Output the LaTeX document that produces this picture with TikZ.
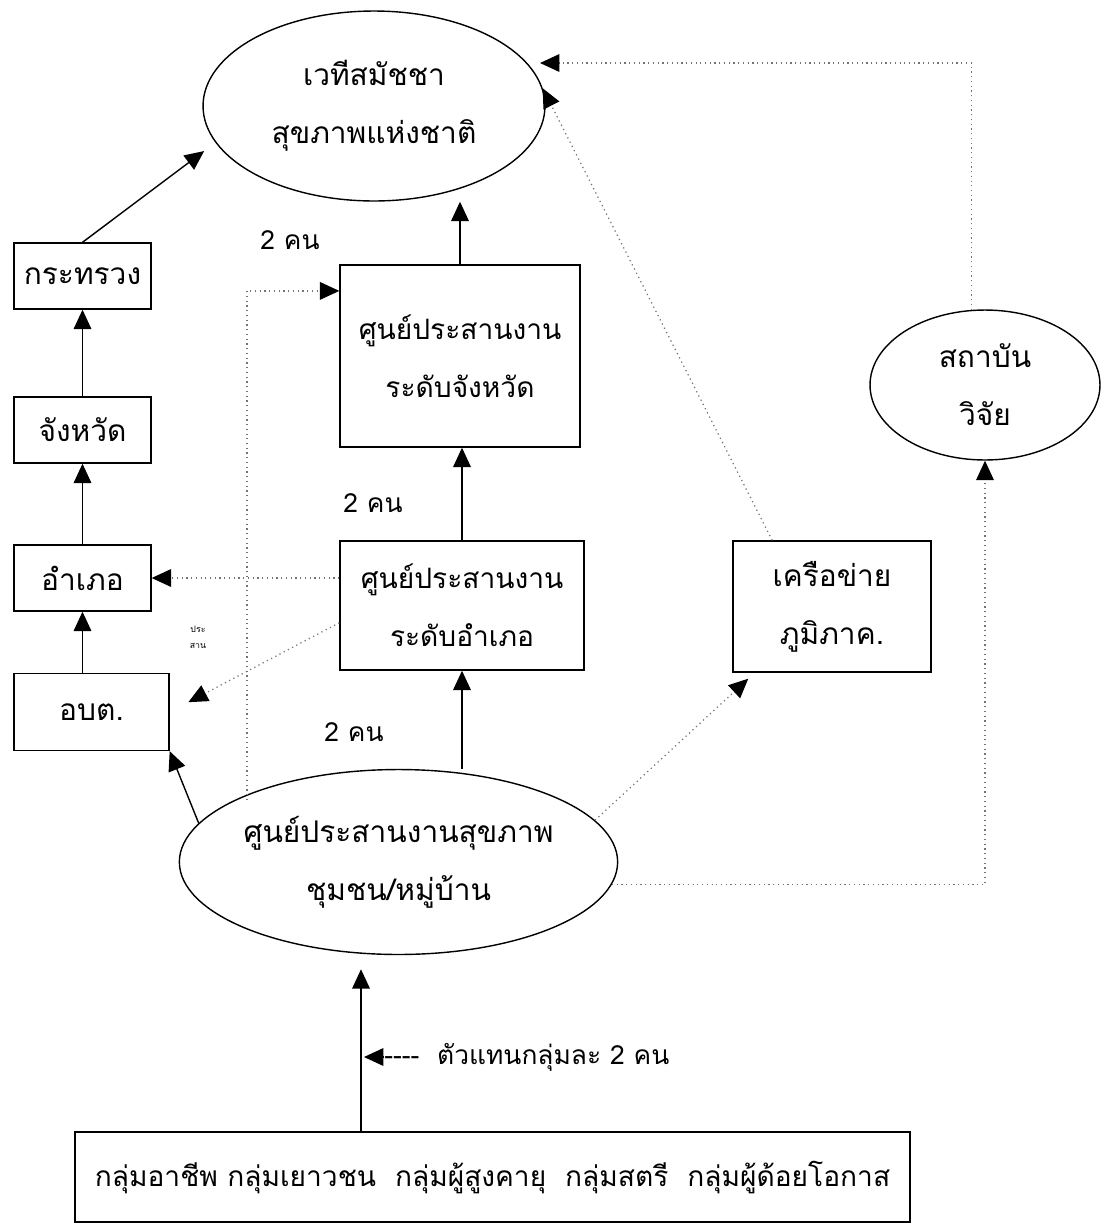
\documentclass[tikz,border=0pt]{standalone}
\usepackage{fontspec}
\newfontfamily\thaifont[Script=Thai]{Loma}
\usetikzlibrary{arrows.meta,shapes.geometric,calc}

\tikzset{
  every node/.style={font=\thaifont},
  lbl/.style={font=\thaifont\fontsize{17}{33}\selectfont, align=center},
  boxnode/.style={lbl, draw, line width=0.8pt, rectangle, inner sep=0pt},
  ovalnode/.style={lbl, draw, line width=0.8pt, ellipse, inner sep=0pt},
  tip/.style={-{Triangle[length=11pt,width=10pt,color=black]}},
  solidlink/.style={tip, line width=0.8pt, black},
  dotlink/.style={tip, line width=0.7pt, black!55, dotted},
  note/.style={font=\thaifont\fontsize{15}{18}\selectfont},
  tiny/.style={font=\thaifont\fontsize{5}{6}\selectfont, align=center}
}

\begin{document}
\begin{tikzpicture}[x=0.02cm, y=-0.02cm]
\useasboundingbox (0,0) rectangle (1113,1228);

% national assembly and research institute
\node[ovalnode, minimum width=6.84cm, minimum height=3.8cm] (nat) at (374,106)
  {เวทีสมัชชา\\สุขภาพแห่งชาติ};
\node[ovalnode, minimum width=4.6cm, minimum height=3.0cm] (res) at (985,385)
  {สถาบัน\\วิจัย};

% administrative chain on the left
\node[boxnode, minimum width=2.74cm, minimum height=1.32cm] (min) at (82.5,276) {กระทรวง};
\node[boxnode, minimum width=2.74cm, minimum height=1.32cm] (prv) at (82.5,430) {จังหวัด};
\node[boxnode, minimum width=2.74cm, minimum height=1.32cm] (amp) at (82.5,578) {อำเภอ};
\node[boxnode, minimum width=3.1cm, minimum height=1.54cm] (tao) at (91.5,712) {อบต.};

% coordination centres
\node[boxnode, font=\thaifont\fontsize{16}{33}\selectfont,
      minimum width=4.8cm, minimum height=3.64cm] (pcc) at (460,356)
  {ศูนย์ประสานงาน\\ระดับจังหวัด};
\node[boxnode, font=\thaifont\fontsize{16}{33}\selectfont,
      minimum width=4.88cm, minimum height=2.58cm] (dcc) at (462,605.5)
  {ศูนย์ประสานงาน\\ระดับอำเภอ};
\node[boxnode, minimum width=3.96cm, minimum height=2.62cm] (net) at (832,606.5)
  {เครือข่าย\\ภูมิภาค.};
\node[ovalnode, minimum width=7.94cm, minimum height=3.7cm] (comm) at (398.5,862)
  {ศูนย์ประสานงานสุขภาพ\\ชุมชน/หมู่บ้าน};

% population groups
\node[boxnode, font=\thaifont\fontsize{16}{20}\selectfont,
      minimum width=16.7cm, minimum height=1.8cm] (grp) at (492.5,1177)
  {กลุ่มอาชีพ กลุ่มเยาวชน\ \ กลุ่มผู้สูงคายุ\ \ กลุ่มสตรี\ \ กลุ่มผู้ด้อยโอกาส};

% headcount labels
\node[note] (n1) at (290,240) {2 คน};
\node[note] (n2) at (373,503) {2 คน};
\node[note] (n3) at (354,732) {2 คน};
\node[note, anchor=west, inner sep=0pt] (n4) at (384,1057) {----\ \ ตัวแทนกลุ่มละ 2 คน};
\node[tiny] (pr) at (198,637) {ประ\\[3pt]สาน};

% solid links
\draw[solidlink, shorten >=8pt] (min.north) -- (nat.193);
\draw[solidlink] (prv.north) -- (min.south);
\draw[solidlink] (amp.north) -- (prv.south);
\draw[solidlink] (tao.north -| amp.north) -- (amp.south);
\draw[solidlink] (pcc.north) -- (pcc.north |- nat.south);
\draw[solidlink] (dcc.south |- dcc.north) -- (dcc.south |- pcc.south);
\draw[solidlink] (dcc.south |- comm.north) -- (dcc.south);
\draw[solidlink] (comm.169) -- (tao.south east);
\draw[solidlink, shorten >=8pt] (grp.north -| 361,0) -- (361,0 |- comm.south);
\coordinate (tipL) at (364,1057);
\draw[line width=0.8pt, -{Triangle[length=11pt,width=10pt]}] (n4.west) -- (tipL);

% dotted links
\draw[dotlink] (dcc.west |- amp.east) -- (amp.east);
\draw[dotlink, shorten >=12pt] (dcc.188) -- (tao.east);
\coordinate (cv) at (247,800);
\draw[dotlink] (cv) |- ($(pcc.north west)!0.145!(pcc.south west)$);
\draw[dotlink] (comm.12) -- ($(net.south west)!0.08!(net.south east)+(0,6)$);
\draw[dotlink] ($(net.north west)!0.2!(net.north east)$) -- (nat.6);
\coordinate (natin) at (540,63);
\draw[dotlink] (res.100) |- (natin);
\draw[dotlink] (comm.-6) -| (res.south);
\end{tikzpicture}
\end{document}
